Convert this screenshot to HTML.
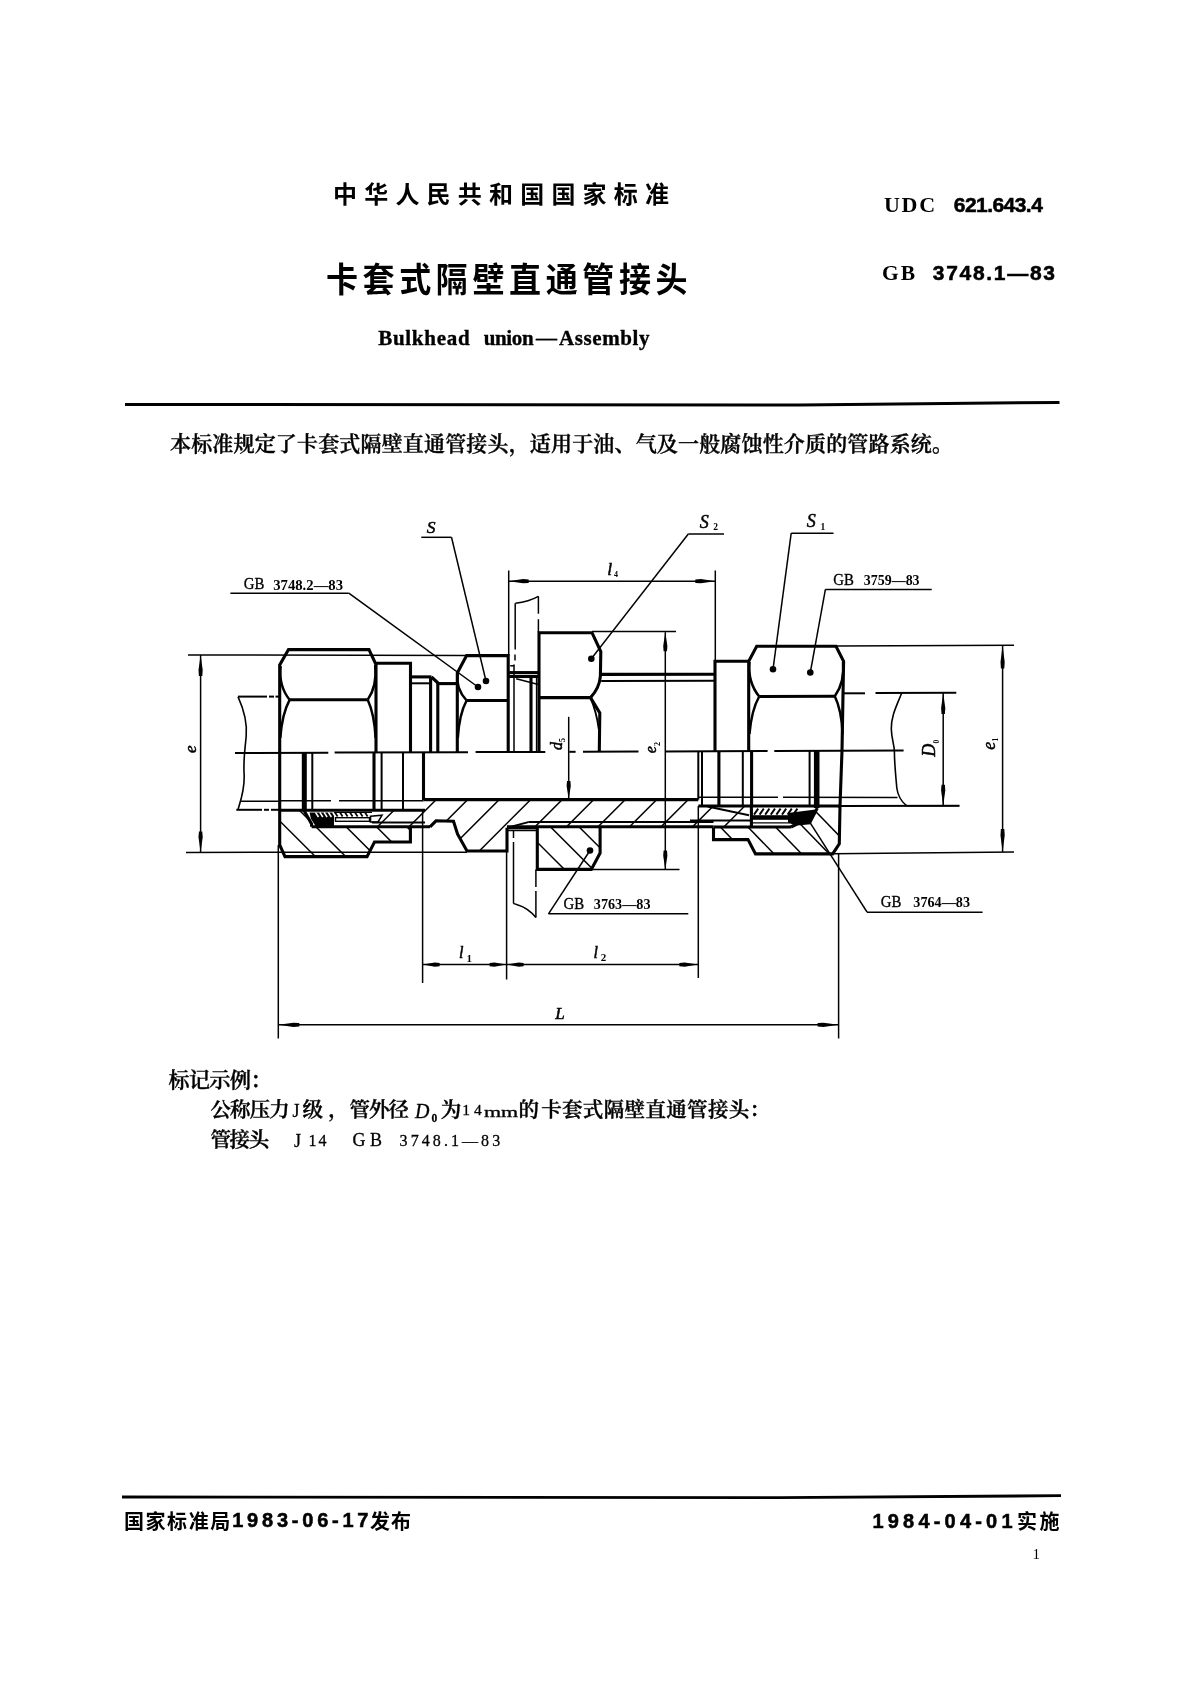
<!DOCTYPE html>
<html lang="zh">
<head>
<meta charset="utf-8">
<title>GB 3748.1-83 卡套式隔壁直通管接头</title>
<style>
html,body{margin:0;padding:0;background:#fff;}
body{width:1191px;height:1684px;position:relative;overflow:hidden;color:#000;}
#page{position:absolute;left:0;top:0;width:1191px;height:1684px;will-change:transform;opacity:0.999;}
.t{position:absolute;white-space:nowrap;line-height:1;margin:0;transform-origin:0 0;}
.hei{font-family:"Liberation Sans","Noto Sans CJK SC",sans-serif;}
.song{font-family:"Liberation Serif","Noto Serif CJK SC",serif;}
.st{-webkit-text-stroke:0.35px #000;}
.st2{-webkit-text-stroke:0.3px #000;}
.st3{-webkit-text-stroke:0.4px #000;}
.st4{-webkit-text-stroke:0.55px #000;}
svg{position:absolute;left:0;top:0;}
svg line,svg path{stroke:#000;fill:none;stroke-linecap:butt;stroke-linejoin:miter;}
svg text.lbl{font-family:"Liberation Serif",serif;font-style:italic;font-weight:400;fill:#000;stroke:#000;stroke-width:0.5px;}
svg text.sub{font-family:"Liberation Serif",serif;font-weight:700;fill:#000;}
svg text.gbt{font-family:"Liberation Serif",serif;fill:#000;stroke:#000;stroke-width:0.35px;}
svg text.num{font-family:"Liberation Serif",serif;font-weight:700;fill:#000;}
</style>
</head>
<body>
<div id="page">
<div class="t hei" id="h1" style="left:333.0px;top:182.6px;font-size:24px;font-weight:700;letter-spacing:7.2px;">中华人民共和国国家标准</div>
<div class="t hei" id="h2" style="left:325.9px;top:263.2px;font-size:32px;font-weight:700;letter-spacing:4.634px;transform:scaleY(1.06);">卡套式隔壁直通管接头</div>
<div class="t song st" id="h3a" style="left:378.2px;top:328.3px;font-size:21px;font-weight:700;letter-spacing:0.714px;">Bulkhead</div>
<div class="t song st" id="h3b" style="left:483.8px;top:328.3px;font-size:21px;font-weight:700;letter-spacing:-0.4px;">union</div>
<div class="t song st" id="h3c" style="left:536.0px;top:328.3px;font-size:21px;font-weight:700;letter-spacing:0.0px;">—</div>
<div class="t song st" id="h3d" style="left:559.0px;top:328.3px;font-size:21px;font-weight:700;letter-spacing:0.596px;">Assembly</div>
<div class="t song" id="udc1" style="left:884.0px;top:194.1px;font-size:22px;font-weight:700;letter-spacing:1.7px;">UDC</div>
<div class="t hei st4" id="udc2" style="left:953.8px;top:194.1px;font-size:21px;font-weight:700;letter-spacing:-0.55px;">621.643.4</div>
<div class="t song" id="gb1" style="left:882.0px;top:262.5px;font-size:21.5px;font-weight:700;letter-spacing:2.0px;">GB</div>
<div class="t hei st4" id="gb2" style="left:932.8px;top:262.0px;font-size:21px;font-weight:700;letter-spacing:1.7px;">3748.1—83</div>
<div class="t song st3" id="p1" style="left:170.0px;top:434.0px;font-size:21px;font-weight:600;letter-spacing:0.166px;">本标准规定了卡套式隔壁直通管接头，适用于油、气及一般腐蚀性介质的管路系统。</div>
<div class="t song st3" id="m1" style="left:168.5px;top:1069.8px;font-size:21px;font-weight:600;letter-spacing:-0.5px;">标记示例：</div>
<div class="t song st3" id="m2a" style="left:210.5px;top:1099.9px;font-size:20.5px;font-weight:600;letter-spacing:-0.932px;">公称压力</div>
<div class="t song st2" id="m2b" style="left:292.5px;top:1102.1px;font-size:18px;font-weight:400;letter-spacing:0.0px;">J</div>
<div class="t song st3" id="m2c" style="left:302.4px;top:1099.9px;font-size:20.5px;font-weight:600;letter-spacing:5.4px;">级，</div>
<div class="t song st3" id="m2d" style="left:349.6px;top:1099.9px;font-size:20.5px;font-weight:600;letter-spacing:-1.0px;">管外径</div>
<div class="t song st2" id="m2e" style="left:415.0px;top:1101.1px;font-size:20px;font-weight:400;letter-spacing:2.0px;"><i>D</i><span style="font-size:11.5px;position:relative;top:3.5px;font-weight:700">0</span></div>
<div class="t song st3" id="m2f" style="left:440.7px;top:1099.9px;font-size:20.5px;font-weight:600;letter-spacing:0.0px;">为</div>
<div class="t song st2" id="m2g" style="left:462.3px;top:1102.3px;font-size:15.5px;font-weight:400;letter-spacing:4.0px;">14</div>
<div class="t song st2" id="m2h" style="left:483.5px;top:1103.7px;font-size:15.5px;font-weight:400;letter-spacing:0.0px;transform:scaleX(1.4202);">mm</div>
<div class="t song st3" id="m2i" style="left:518.4px;top:1099.9px;font-size:20.5px;font-weight:600;letter-spacing:0.0px;">的</div>
<div class="t song st3" id="m2j" style="left:541.2px;top:1099.9px;font-size:20.5px;font-weight:600;letter-spacing:0.34px;">卡套式隔壁直通管接头：</div>
<div class="t song st3" id="m3a" style="left:210.5px;top:1130.2px;font-size:20.5px;font-weight:600;letter-spacing:-1.4px;">管接头</div>
<div class="t song st2" id="m3b" style="left:294.1px;top:1132.0px;font-size:18px;font-weight:400;letter-spacing:0.0px;">J</div>
<div class="t song st2" id="m3c" style="left:308.5px;top:1132.6px;font-size:16px;font-weight:400;letter-spacing:2.0px;">14</div>
<div class="t song st2" id="m3d" style="left:352.5px;top:1131.2px;font-size:18px;font-weight:400;letter-spacing:4.4px;">GB</div>
<div class="t song st2" id="m3e" style="left:399.6px;top:1132.6px;font-size:16px;font-weight:400;letter-spacing:3.075px;">3748.1—83</div>
<div class="t hei" id="f1a" style="left:124.0px;top:1512.0px;font-size:20px;font-weight:700;letter-spacing:1.55px;">国家标准局</div>
<div class="t hei st4" id="f1b" style="left:232.2px;top:1510.1px;font-size:20px;font-weight:700;letter-spacing:3.778px;">1983-06-17</div>
<div class="t hei" id="f1c" style="left:370.1px;top:1512.0px;font-size:20px;font-weight:700;letter-spacing:0.8px;">发布</div>
<div class="t hei st4" id="f2a" style="left:872.4px;top:1510.9px;font-size:20px;font-weight:700;letter-spacing:4.207px;">1984-04-01</div>
<div class="t hei" id="f2b" style="left:1017.0px;top:1511.9px;font-size:20px;font-weight:700;letter-spacing:2.6px;">实施</div>
<div class="t song" id="pg" style="left:1032.5px;top:1547.1px;font-size:15px;font-weight:400;letter-spacing:0.0px;">1</div>
<svg id="dwg" width="1191" height="1684" viewBox="0 0 1191 1684">
<line x1="235" y1="753" x2="328.3" y2="752.7" stroke-width="2.0"/>
<line x1="334.6" y1="752.6" x2="468" y2="752.2" stroke-width="2.0"/>
<line x1="475.6" y1="752.1" x2="545.3" y2="751.9" stroke-width="2.0"/>
<line x1="569.3" y1="751.8" x2="575.6" y2="751.8" stroke-width="2.0"/>
<line x1="583" y1="751.8" x2="638.5" y2="751.6" stroke-width="2.0"/>
<line x1="665" y1="751.5" x2="767.6" y2="751.1" stroke-width="2.0"/>
<line x1="774.3" y1="751.1" x2="903.6" y2="750.6" stroke-width="2.0"/>
<path d="M279.7,753 L279.7,665 L288.5,649.6 L369,649.6 L376,664.5 L376,753" stroke-width="3.1"/>
<line x1="289.5" y1="699.8" x2="367.7" y2="699.8" stroke-width="3.1"/>
<path d="M280.6,666 Q278.5,686 289.6,699.8" stroke-width="2.5"/>
<path d="M289.6,699.8 Q282,714 280.3,738" stroke-width="2.5"/>
<path d="M375.2,665 Q377.3,686 367.7,699.8" stroke-width="2.5"/>
<path d="M367.7,699.8 Q374.3,714 375.6,738" stroke-width="2.5"/>
<path d="M376,663.3 L410.5,663.3 L410.5,753" stroke-width="3.1"/>
<line x1="410.5" y1="676.9" x2="431.5" y2="676.9" stroke-width="3.1"/>
<line x1="411" y1="683.3" x2="430" y2="683.3" stroke-width="2.0"/>
<line x1="430.6" y1="677" x2="430.6" y2="753" stroke-width="3.1"/>
<line x1="431.5" y1="677" x2="438" y2="683" stroke-width="3.1"/>
<line x1="437.8" y1="682.8" x2="437.8" y2="753" stroke-width="3.1"/>
<line x1="437.8" y1="683.6" x2="457.3" y2="683.6" stroke-width="3.1"/>
<path d="M279.7,753 L279.7,845 L285,856.6 L367,856.6 L374.5,842 L410.4,842 L410.4,827" stroke-width="3.1"/>
<clipPath id="c1"><path d="M279.7,810.2 L304,810.2 L311.6,824 L311.6,826.8 L410.4,826.8 L410.4,842 L374.5,842 L367,856.6 L285,856.6 L279.7,845 Z"/></clipPath>
<g clip-path="url(#c1)"><line x1="233.7" y1="805.2" x2="290.1" y2="861.6" stroke-width="1.5"/><line x1="264" y1="805.2" x2="320.4" y2="861.6" stroke-width="1.5"/><line x1="294.3" y1="805.2" x2="350.7" y2="861.6" stroke-width="1.5"/><line x1="324.6" y1="805.2" x2="381" y2="861.6" stroke-width="1.5"/><line x1="354.9" y1="805.2" x2="411.3" y2="861.6" stroke-width="1.5"/><line x1="385.2" y1="805.2" x2="441.6" y2="861.6" stroke-width="1.5"/></g>
<line x1="304.3" y1="753" x2="304.3" y2="811" stroke-width="5"/>
<line x1="312.3" y1="753" x2="312.3" y2="811" stroke-width="2.0"/>
<line x1="374" y1="753" x2="374" y2="811" stroke-width="3.1"/>
<line x1="381.6" y1="753" x2="381.6" y2="811" stroke-width="2.0"/>
<line x1="403" y1="753" x2="403" y2="811" stroke-width="2.0"/>
<line x1="279.7" y1="810.3" x2="425" y2="810.3" stroke-width="3.1"/>
<path d="M304,810.5 L311.6,824 L311.6,826.8" stroke-width="3.1"/>
<path d="M309.5,812.5 L334,812.5 L334,826.8 L316,826.8 L311,819 Z" style="fill:#000;stroke:none"/>
<line x1="311.6" y1="826.8" x2="372" y2="826.8" stroke-width="3.1"/>
<line x1="315.5" y1="812.4" x2="318.5" y2="817" stroke-width="1.6" style="stroke:#fff"/>
<line x1="319.8" y1="812.4" x2="322.8" y2="817" stroke-width="1.6" style="stroke:#fff"/>
<line x1="324.1" y1="812.4" x2="327.1" y2="817" stroke-width="1.6" style="stroke:#fff"/>
<line x1="328.4" y1="812.4" x2="331.4" y2="817" stroke-width="1.6" style="stroke:#fff"/>
<line x1="332.7" y1="812.4" x2="335.7" y2="817" stroke-width="1.6" style="stroke:#fff"/>
<line x1="335" y1="812.6" x2="337.6" y2="816.4" stroke-width="1.7"/>
<line x1="340" y1="812.6" x2="342.6" y2="816.4" stroke-width="1.7"/>
<line x1="345" y1="812.6" x2="347.6" y2="816.4" stroke-width="1.7"/>
<line x1="350" y1="812.6" x2="352.6" y2="816.4" stroke-width="1.7"/>
<line x1="355" y1="812.6" x2="357.6" y2="816.4" stroke-width="1.7"/>
<line x1="360" y1="812.6" x2="362.6" y2="816.4" stroke-width="1.7"/>
<line x1="365" y1="812.6" x2="367.6" y2="816.4" stroke-width="1.7"/>
<line x1="334" y1="812.3" x2="372" y2="812.3" stroke-width="1.2"/>
<rect x="335.5" y="817.7" width="34" height="3.6" style="fill:#fff;stroke:#000;stroke-width:1.4"/>
<path d="M370.5,816.3 L382,815.3 L378,822 L370.5,822 Z" style="fill:#fff;stroke:#000;stroke-width:1.6"/>
<line x1="372" y1="822.6" x2="425" y2="822.6" stroke-width="2.0"/>
<line x1="372" y1="826.8" x2="430" y2="826.8" stroke-width="3.1"/>
<line x1="423.5" y1="753" x2="423.5" y2="800" stroke-width="3.1"/>
<line x1="423.5" y1="799.6" x2="698.3" y2="799.6" stroke-width="3.1"/>
<path d="M430,826.8 L436,820.8 L453.5,821.3 L457.5,834 L467,851 L507,851 L507,827.8" stroke-width="3.1"/>
<clipPath id="c2"><path d="M374,810.3 L423.5,810.3 L423.5,799.6 L698.3,799.6 L698.3,805.8 L751,806 L751,827 L507,826.8 L507,851 L467,851 L457.5,834 L453.5,821.3 L436,820.8 L430,826.8 L374,826.8 Z"/></clipPath>
<g clip-path="url(#c2)"><line x1="378.2" y1="794.6" x2="316.8" y2="856" stroke-width="1.5"/><line x1="409.7" y1="794.6" x2="348.3" y2="856" stroke-width="1.5"/><line x1="441.2" y1="794.6" x2="379.8" y2="856" stroke-width="1.5"/><line x1="472.7" y1="794.6" x2="411.3" y2="856" stroke-width="1.5"/><line x1="504.2" y1="794.6" x2="442.8" y2="856" stroke-width="1.5"/><line x1="535.7" y1="794.6" x2="474.3" y2="856" stroke-width="1.5"/><line x1="567.2" y1="794.6" x2="505.8" y2="856" stroke-width="1.5"/><line x1="598.7" y1="794.6" x2="537.3" y2="856" stroke-width="1.5"/><line x1="630.2" y1="794.6" x2="568.8" y2="856" stroke-width="1.5"/><line x1="661.7" y1="794.6" x2="600.3" y2="856" stroke-width="1.5"/><line x1="693.2" y1="794.6" x2="631.8" y2="856" stroke-width="1.5"/><line x1="724.7" y1="794.6" x2="663.3" y2="856" stroke-width="1.5"/><line x1="756.2" y1="794.6" x2="694.8" y2="856" stroke-width="1.5"/><line x1="787.7" y1="794.6" x2="726.3" y2="856" stroke-width="1.5"/></g>
<line x1="528.3" y1="822.1" x2="713.5" y2="822.1" stroke-width="2.0"/>
<line x1="507" y1="826.8" x2="713.5" y2="826.8" stroke-width="3.1"/>
<line x1="507" y1="827.8" x2="528.3" y2="822.1" stroke-width="2.0"/>
<path d="M457.3,753 L457.3,673 L466.6,655.6 L508.2,655.6 L508.2,753" stroke-width="3.1"/>
<line x1="466.6" y1="700.5" x2="508.2" y2="700.5" stroke-width="3.1"/>
<path d="M457.6,673 Q455.3,688 466.6,700.5" stroke-width="2.5"/>
<path d="M466.6,700.5 Q459.3,714 457.8,738" stroke-width="2.5"/>
<line x1="508.2" y1="672.6" x2="539" y2="672.6" stroke-width="3.1"/>
<line x1="508.2" y1="676.5" x2="539" y2="676.5" stroke-width="3.1"/>
<line x1="510.2" y1="665.8" x2="514.2" y2="665.8" stroke-width="1.5"/>
<line x1="516.2" y1="678.7" x2="538.4" y2="684.4" stroke-width="1.5"/>
<line x1="531" y1="677" x2="531" y2="753" stroke-width="3.1"/>
<line x1="536.6" y1="677" x2="536.6" y2="753" stroke-width="1.5"/>
<path d="M515.4,603.3 Q529,601.5 538.4,596.3" stroke-width="1.5"/>
<line x1="538.4" y1="596.3" x2="538.4" y2="613.7" stroke-width="1.5"/>
<line x1="538.4" y1="619.2" x2="538.4" y2="632" stroke-width="1.5"/>
<line x1="515.2" y1="603.3" x2="515.2" y2="649.4" stroke-width="1.5"/>
<line x1="515" y1="654.5" x2="515" y2="660.5" stroke-width="1.5"/>
<line x1="514" y1="664.6" x2="514" y2="753" stroke-width="1.5"/>
<line x1="513.5" y1="830" x2="513.5" y2="838" stroke-width="1.5"/>
<line x1="513.5" y1="842" x2="513.5" y2="903.4" stroke-width="1.5"/>
<path d="M513.3,903.4 L518,905 Q528,908 535.9,917.5" stroke-width="1.5"/>
<line x1="535.9" y1="869.4" x2="535.9" y2="887" stroke-width="1.5"/>
<line x1="535.9" y1="891" x2="535.9" y2="917.5" stroke-width="1.5"/>
<path d="M539,753 L539,632.7 L592,632.7 L600.8,651.5 L600.4,676" stroke-width="3.1"/>
<line x1="539" y1="697.6" x2="590.5" y2="697.6" stroke-width="3.1"/>
<path d="M600.4,676 Q599.5,688 590.5,697.6" stroke-width="3.1"/>
<path d="M590.5,697.6 L599.8,713 L599.3,751.5" stroke-width="3.1"/>
<path d="M590.5,697.6 Q596.5,712 598.8,729" stroke-width="1.9"/>
<path d="M537.3,827.8 L537.3,869.4 L591.3,869.4 L600.1,853 L600.1,827.8" stroke-width="3.1"/>
<clipPath id="c3"><path d="M537.3,827.8 L537.3,869.4 L591.3,869.4 L600.1,853 L600.1,827.8 Z"/></clipPath>
<g clip-path="url(#c3)"><line x1="489.2" y1="822.8" x2="540.8" y2="874.4" stroke-width="1.5"/><line x1="517.8" y1="822.8" x2="569.4" y2="874.4" stroke-width="1.5"/><line x1="546.4" y1="822.8" x2="598" y2="874.4" stroke-width="1.5"/><line x1="575" y1="822.8" x2="626.6" y2="874.4" stroke-width="1.5"/></g>
<line x1="507" y1="827.8" x2="537.3" y2="827.8" stroke-width="3.1"/>
<line x1="507" y1="830.5" x2="537.3" y2="830.5" stroke-width="1.5"/>
<line x1="601.2" y1="674.4" x2="714.5" y2="674.2" stroke-width="3.1"/>
<line x1="601.2" y1="681" x2="714.5" y2="680.8" stroke-width="2.0"/>
<path d="M715,752 L715,661.3 L748.7,661.3" stroke-width="3.1"/>
<path d="M748.7,751 L748.7,661.3 L756.7,646.3 L836,646.3 L843.6,661.3 L842,750.6" stroke-width="3.1"/>
<line x1="759.2" y1="696.5" x2="834.8" y2="696.3" stroke-width="3.1"/>
<path d="M749.5,662 Q747.5,682 759.2,696.5" stroke-width="2.5"/>
<path d="M759.2,696.5 Q751.5,710 749.5,734" stroke-width="2.5"/>
<path d="M843,662 Q845,682 834.8,696.3" stroke-width="2.5"/>
<path d="M834.8,696.3 Q841.5,710 842.6,734" stroke-width="2.5"/>
<path d="M842,750.6 L840,806 L839.3,843.8 L832.7,853.9 L755.5,853.9 L748,839.6 L713.5,839.6 L713.5,827.8" stroke-width="3.1"/>
<clipPath id="c4"><path d="M840.5,806 L840,843.8 L832.7,853.9 L755.5,853.9 L748,839.6 L713.5,839.6 L713.5,827.8 L790.8,827.8 L811,816 L817.6,806 Z"/></clipPath>
<g clip-path="url(#c4)"><line x1="667.5" y1="801" x2="723.7" y2="858.9" stroke-width="1.5"/><line x1="695.1" y1="801" x2="751.3" y2="858.9" stroke-width="1.5"/><line x1="722.7" y1="801" x2="778.9" y2="858.9" stroke-width="1.5"/><line x1="750.3" y1="801" x2="806.5" y2="858.9" stroke-width="1.5"/><line x1="777.9" y1="801" x2="834.1" y2="858.9" stroke-width="1.5"/><line x1="805.5" y1="801" x2="861.7" y2="858.9" stroke-width="1.5"/><line x1="833.1" y1="801" x2="889.3" y2="858.9" stroke-width="1.5"/></g>
<line x1="698.3" y1="752" x2="698.3" y2="799.6" stroke-width="2.0"/>
<line x1="702" y1="752" x2="702" y2="806" stroke-width="2.0"/>
<line x1="718.9" y1="752" x2="718.9" y2="806" stroke-width="3.1"/>
<line x1="742.8" y1="752" x2="742.8" y2="806" stroke-width="2.0"/>
<line x1="751.6" y1="751" x2="751.6" y2="806" stroke-width="3.1"/>
<line x1="809.6" y1="751" x2="809.6" y2="806" stroke-width="2.0"/>
<line x1="816.7" y1="751" x2="816.7" y2="808" stroke-width="5.6"/>
<line x1="698.3" y1="806" x2="841" y2="806" stroke-width="3.1"/>
<line x1="841" y1="806" x2="959.4" y2="805.7" stroke-width="2.0"/>
<line x1="690" y1="820.6" x2="751" y2="820.6" stroke-width="2.0"/>
<line x1="713.5" y1="827" x2="791" y2="827" stroke-width="3.1"/>
<path d="M791,827 L797,824 L809.6,822.7 L817.3,808" stroke-width="3.1"/>
<line x1="751.4" y1="806" x2="751.4" y2="827" stroke-width="3.1"/>
<path d="M788,813 L815.5,809.5 L809.6,823.2 L795,825.5 L788,822.5 Z" style="fill:#000;stroke:none"/>
<line x1="754" y1="814.6" x2="758.2" y2="808.6" stroke-width="1.9"/>
<line x1="759.6" y1="814.6" x2="763.8" y2="808.6" stroke-width="1.9"/>
<line x1="765.2" y1="814.6" x2="769.4" y2="808.6" stroke-width="1.9"/>
<line x1="770.8" y1="814.6" x2="775" y2="808.6" stroke-width="1.9"/>
<line x1="776.4" y1="814.6" x2="780.6" y2="808.6" stroke-width="1.9"/>
<line x1="782" y1="814.6" x2="786.2" y2="808.6" stroke-width="1.9"/>
<line x1="787.6" y1="814.6" x2="791.8" y2="808.6" stroke-width="1.9"/>
<line x1="793.2" y1="814.6" x2="797.4" y2="808.6" stroke-width="1.9"/>
<rect x="751.6" y="815.2" width="39" height="4.6" style="fill:#000;stroke:none"/>
<line x1="751.6" y1="822.9" x2="790" y2="822.9" stroke-width="1.2"/>
<path d="M707.6,806.4 L749,815.2" stroke-width="2.0"/>
<line x1="238" y1="696.6" x2="267" y2="696.6" stroke-width="2.0"/>
<line x1="269" y1="696.6" x2="274" y2="696.6" stroke-width="2.0"/>
<line x1="275.5" y1="696.6" x2="279" y2="696.6" stroke-width="2.0"/>
<path d="M238,696.6 C244,710 247.5,722 246.2,736 C245,750 243,760 244.2,776 C244.5,790 241,800 238,809.6" stroke-width="1.6"/>
<line x1="240" y1="801.2" x2="279.7" y2="801.2" stroke-width="1.5"/>
<line x1="236.3" y1="809.8" x2="262" y2="809.8" stroke-width="2.0"/>
<line x1="264" y1="809.8" x2="269" y2="809.8" stroke-width="2.0"/>
<line x1="271" y1="809.8" x2="279.7" y2="809.8" stroke-width="2.0"/>
<line x1="279.7" y1="800.8" x2="331" y2="800.8" stroke-width="1.5"/>
<line x1="339" y1="800.8" x2="423.5" y2="800.8" stroke-width="1.5"/>
<line x1="844" y1="693.3" x2="865" y2="693.3" stroke-width="2.0"/>
<line x1="875.5" y1="693.1" x2="956.3" y2="692.8" stroke-width="2.0"/>
<path d="M901.7,693 C897,705 891,716 891.3,729 C891.6,740 894.5,745 894.4,752 C894.5,765 896,778 896.8,788 C898,797 902,802 906.5,805.7" stroke-width="1.6"/>
<line x1="698.3" y1="797.2" x2="778" y2="797.2" stroke-width="1.5"/>
<line x1="783" y1="797.2" x2="897.5" y2="797.4" stroke-width="1.5"/>
<line x1="188" y1="654.9" x2="466.6" y2="655.4" stroke-width="1.5"/>
<line x1="186" y1="852.4" x2="467" y2="852.2" stroke-width="1.5"/>
<line x1="200.6" y1="655" x2="200.6" y2="852.4" stroke-width="1.5"/>
<polygon points="200.6,655 202.7,670.1 202.3,676 198.9,676 198.5,670.1" style="fill:#000;stroke:none"/>
<polygon points="200.6,852.4 198.5,837.3 198.9,831.4 202.3,831.4 202.7,837.3" style="fill:#000;stroke:none"/>
<text x="195.7" y="753" font-size="17" class="lbl" transform="rotate(-90 195.7 753)">e</text>
<line x1="278.3" y1="845" x2="278.3" y2="1038.5" stroke-width="1.5"/>
<line x1="838.6" y1="854" x2="838.6" y2="1038.5" stroke-width="1.5"/>
<line x1="278.3" y1="1024.8" x2="838.6" y2="1024.8" stroke-width="1.5"/>
<polygon points="278.3,1024.8 293.4,1022.7 299.3,1023.1 299.3,1026.5 293.4,1026.9" style="fill:#000;stroke:none"/>
<polygon points="838.6,1024.8 823.5,1026.9 817.6,1026.5 817.6,1023.1 823.5,1022.7" style="fill:#000;stroke:none"/>
<text x="555.3" y="1019" font-size="17" class="lbl">L</text>
<line x1="422.6" y1="810" x2="422.6" y2="983" stroke-width="1.5"/>
<line x1="506.6" y1="851" x2="506.6" y2="979.5" stroke-width="1.5"/>
<line x1="698.3" y1="806" x2="698.3" y2="978" stroke-width="1.5"/>
<line x1="422.6" y1="964.6" x2="698.3" y2="964.6" stroke-width="1.5"/>
<polygon points="422.6,964.6 434.8,962.5 439.6,962.9 439.6,966.3 434.8,966.7" style="fill:#000;stroke:none"/>
<polygon points="506.6,964.6 494.4,966.7 489.6,966.3 489.6,962.9 494.4,962.5" style="fill:#000;stroke:none"/>
<polygon points="506.6,964.6 518.8,962.5 523.6,962.9 523.6,966.3 518.8,966.7" style="fill:#000;stroke:none"/>
<polygon points="698.3,964.6 684.6,966.7 679.3,966.3 679.3,962.9 684.6,962.5" style="fill:#000;stroke:none"/>
<text x="459" y="957.7" font-size="16" class="lbl">l</text>
<text x="466.5" y="961.9" font-size="11" class="sub">1</text>
<text x="593.4" y="957.7" font-size="16" class="lbl">l</text>
<text x="600.8" y="961" font-size="11" class="sub">2</text>
<line x1="508.7" y1="570.5" x2="508.7" y2="655.6" stroke-width="1.5"/>
<line x1="715.3" y1="570.5" x2="715.3" y2="661" stroke-width="1.5"/>
<line x1="508.7" y1="581.2" x2="715.3" y2="581.2" stroke-width="1.5"/>
<polygon points="508.7,581.2 523.1,579.1 528.7,579.5 528.7,582.9 523.1,583.3" style="fill:#000;stroke:none"/>
<polygon points="715.3,581.2 700.9,583.3 695.3,582.9 695.3,579.5 700.9,579.1" style="fill:#000;stroke:none"/>
<text x="607.2" y="574.9" font-size="17.5" class="lbl">l</text>
<text x="614" y="577" font-size="8" class="sub">4</text>
<line x1="568.7" y1="716.8" x2="568.7" y2="799" stroke-width="1.5"/>
<polygon points="568.7,799 566.6,786 567,781 570.4,781 570.8,786" style="fill:#000;stroke:none"/>
<text x="561.5" y="750" font-size="16" class="lbl" transform="rotate(-90 561.5 750)">d</text>
<text x="565" y="741.9" font-size="8" class="sub" transform="rotate(-90 565 741.9)">5</text>
<line x1="592" y1="631.6" x2="676" y2="631.6" stroke-width="1.5"/>
<line x1="591.3" y1="869.4" x2="679.5" y2="869.4" stroke-width="1.5"/>
<line x1="665.3" y1="632.2" x2="665.3" y2="869.4" stroke-width="1.5"/>
<polygon points="665.3,632.2 667.4,645.9 667,651.2 663.6,651.2 663.2,645.9" style="fill:#000;stroke:none"/>
<polygon points="665.3,869.4 663.2,855.7 663.6,850.4 667,850.4 667.4,855.7" style="fill:#000;stroke:none"/>
<text x="655.6" y="753.2" font-size="16" class="lbl" transform="rotate(-90 655.6 753.2)">e</text>
<text x="659.6" y="745.9" font-size="8" class="sub" transform="rotate(-90 659.6 745.9)">2</text>
<line x1="959.4" y1="805.7" x2="906" y2="805.7" stroke-width="1.5"/>
<line x1="943.2" y1="693" x2="943.2" y2="805.7" stroke-width="1.5"/>
<polygon points="943.2,693 945.3,708.1 944.9,714 941.5,714 941.1,708.1" style="fill:#000;stroke:none"/>
<polygon points="943.2,805.7 941.1,790.6 941.5,784.7 944.9,784.7 945.3,790.6" style="fill:#000;stroke:none"/>
<text x="935.3" y="756.8" font-size="18" class="lbl" transform="rotate(-90 935.3 756.8)">D</text>
<text x="938.5" y="743.5" font-size="7.5" class="sub" transform="rotate(-90 938.5 743.5)">0</text>
<line x1="836" y1="646" x2="1014" y2="645.3" stroke-width="1.5"/>
<line x1="832.7" y1="853.7" x2="1014" y2="852" stroke-width="1.5"/>
<line x1="1002.6" y1="645.5" x2="1002.6" y2="852" stroke-width="1.5"/>
<polygon points="1002.6,645.5 1004.7,662.1 1004.3,668.5 1000.9,668.5 1000.5,662.1" style="fill:#000;stroke:none"/>
<polygon points="1002.6,852 1000.5,835.4 1000.9,829 1004.3,829 1004.7,835.4" style="fill:#000;stroke:none"/>
<text x="994.7" y="749.8" font-size="18" class="lbl" transform="rotate(-90 994.7 749.8)">e</text>
<text x="998.2" y="741.5" font-size="7.5" class="sub" transform="rotate(-90 998.2 741.5)">1</text>
<line x1="230.4" y1="593.2" x2="348.8" y2="593.2" stroke-width="1.5"/>
<line x1="348.8" y1="593.2" x2="478" y2="687" stroke-width="1.5"/>
<circle cx="478" cy="687" r="3.3" style="fill:#000;stroke:none"/>
<text x="243.8" y="588.7" font-size="16.3" class="gbt" textLength="20.6" lengthAdjust="spacingAndGlyphs">GB</text>
<text x="273.2" y="589.5" font-size="14.3" class="num" textLength="69.9" lengthAdjust="spacingAndGlyphs">3748.2—83</text>
<line x1="421.3" y1="537.3" x2="451.5" y2="537.3" stroke-width="1.5"/>
<line x1="451.5" y1="537.3" x2="486" y2="681" stroke-width="1.5"/>
<circle cx="486" cy="681" r="3.3" style="fill:#000;stroke:none"/>
<text x="426.8" y="533.2" font-size="17.5" class="lbl">S</text>
<line x1="688.3" y1="534" x2="724" y2="534" stroke-width="1.5"/>
<line x1="688.3" y1="534" x2="591.3" y2="658.7" stroke-width="1.5"/>
<circle cx="591.3" cy="658.7" r="3.3" style="fill:#000;stroke:none"/>
<text x="699.8" y="527.9" font-size="18" class="lbl">S</text>
<text x="713.2" y="530.1" font-size="9.5" class="sub">2</text>
<line x1="791.2" y1="533.2" x2="833.5" y2="533.2" stroke-width="1.5"/>
<line x1="791.2" y1="533.2" x2="773" y2="669.3" stroke-width="1.5"/>
<circle cx="773" cy="669.3" r="3.3" style="fill:#000;stroke:none"/>
<text x="806.8" y="526.8" font-size="18" class="lbl">S</text>
<text x="820.6" y="530.1" font-size="9.5" class="sub">1</text>
<line x1="825.4" y1="589.4" x2="931.7" y2="589.4" stroke-width="1.5"/>
<line x1="825.4" y1="589.4" x2="810.3" y2="672.5" stroke-width="1.5"/>
<circle cx="810.3" cy="672.5" r="3.3" style="fill:#000;stroke:none"/>
<text x="833.2" y="584.9" font-size="16.3" class="gbt" textLength="20.6" lengthAdjust="spacingAndGlyphs">GB</text>
<text x="863.8" y="585.3" font-size="14.3" class="num" textLength="55.8" lengthAdjust="spacingAndGlyphs">3759—83</text>
<circle cx="590" cy="850.5" r="3.3" style="fill:#000;stroke:none"/>
<line x1="590" y1="850.5" x2="548.5" y2="913.8" stroke-width="1.5"/>
<line x1="548.5" y1="913.8" x2="688.3" y2="913.8" stroke-width="1.5"/>
<text x="563.6" y="909" font-size="16.3" class="gbt" textLength="20.6" lengthAdjust="spacingAndGlyphs">GB</text>
<text x="593.8" y="909.3" font-size="14.3" class="num" textLength="56.7" lengthAdjust="spacingAndGlyphs">3763—83</text>
<line x1="807.5" y1="818.6" x2="867" y2="912" stroke-width="1.5"/>
<line x1="867" y1="912.2" x2="982.6" y2="912.2" stroke-width="1.5"/>
<text x="880.8" y="906.5" font-size="16.3" class="gbt" textLength="20.6" lengthAdjust="spacingAndGlyphs">GB</text>
<text x="913.3" y="906.8" font-size="14.3" class="num" textLength="56.7" lengthAdjust="spacingAndGlyphs">3764—83</text>
<path d="M125,404.4 L800,405.1 L1059.5,402.4" stroke-width="3.0"/>
<path d="M122,1497 L780,1497.7 L1061,1495.7" stroke-width="2.8"/>
</svg>
</div>
</body>
</html>
